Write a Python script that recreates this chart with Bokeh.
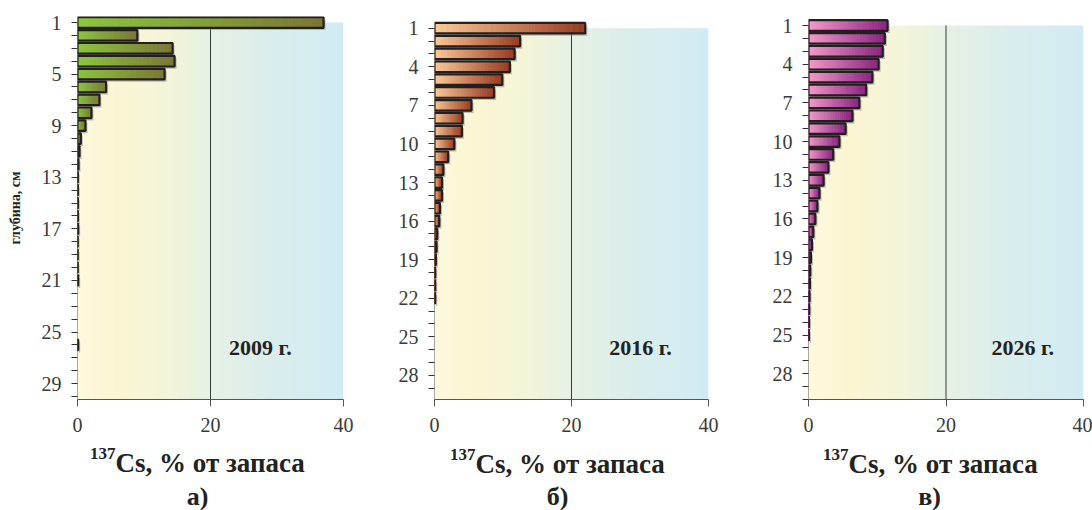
import numpy as np
from bokeh.plotting import figure
from bokeh.models import Range1d, FixedTicker, Label
from bokeh.layouts import row, column
from bokeh.core.properties import value
from bokeh.embed import file_html
from bokeh.resources import INLINE

# ---------------- data ----------------
depth = list(range(1, 31))
cs_2009 = [37.0, 9.0, 14.3, 14.6, 13.1, 4.3, 3.3, 2.1, 1.2, 0.5,
           0.3, 0.15, 0.05, 0.05, 0.05, 0.05, 0.1, 0.02, 0.02, 0.02,
           0.1, 0.0, 0.0, 0.0, 0.0, 0.1, 0.0, 0.0, 0.0, 0.0]
cs_2016 = [22.0, 12.5, 11.7, 11.0, 9.9, 8.7, 5.4, 4.1, 4.0, 2.9,
           2.0, 1.3, 1.1, 1.1, 0.8, 0.7, 0.4, 0.3, 0.2, 0.1,
           0.1, 0.1, 0.0, 0.0, 0.0, 0.0, 0.0, 0.0, 0.0, 0.0]
cs_2026 = [11.5, 11.1, 10.8, 10.2, 9.3, 8.4, 7.4, 6.4, 5.4, 4.5,
           3.6, 2.9, 2.2, 1.6, 1.3, 1.0, 0.7, 0.5, 0.35, 0.25,
           0.2, 0.15, 0.1, 0.07, 0.05, 0.0, 0.0, 0.0, 0.0, 0.0]
x_ticks = [0, 20, 40]
years = ["2009 г.", "2016 г.", "2026 г."]
panel_letters = ["а)", "б)", "в)"]
x_title = "Cs, % от запаса"
x_title_sup = "137"
y_title = "глубина, см"

FONT = "Liberation Serif"


def hex2rgb(h):
    h = h.lstrip("#")
    return tuple(int(h[i:i + 2], 16) for i in (0, 2, 4))


def mix(c0, c1, t):
    a, b = hex2rgb(c0), hex2rgb(c1)
    return "#%02x%02x%02x" % tuple(int(round(a[k] + (b[k] - a[k]) * t)) for k in range(3))


def background_image(W=240):
    stops = [(0.0, "#fdf9de"), (0.12, "#fbf6d3"), (0.35, "#f3f4d9"),
             (0.5, "#e6f1e5"), (0.75, "#d9edec"), (1.0, "#d2ebf3")]
    img = np.empty((1, W), dtype=np.uint32)
    view = img.view(dtype=np.uint8).reshape((1, W, 4))
    for i in range(W):
        t = i / (W - 1)
        for k in range(len(stops) - 1):
            if stops[k][0] <= t <= stops[k + 1][0]:
                tt = (t - stops[k][0]) / (stops[k + 1][0] - stops[k][0])
                r, g, b = hex2rgb(mix(stops[k][1], stops[k + 1][1], tt))
                break
        view[0, i] = (r, g, b, 255)
    return img


# common frame (row layout aligns frames): top at 16 px, bottom at 399 px
FRAME_TOP = 16
FRAME_BOT = 399
H_MAIN = 441


def y_limits(y1_px, y30_px):
    s = (y30_px - y1_px) / 29.0
    return 1 - (y1_px - FRAME_TOP) / s, 30 + (FRAME_BOT - y30_px) / s


def make_panel(values, c0, c1, label_every, year, width, bl, br, tick_px, ypos, show_ylabel):
    top, bot = y_limits(*tick_px)
    p = figure(width=width, height=H_MAIN, output_backend="svg",
               toolbar_location=None, x_range=Range1d(0, 40),
               y_range=Range1d(bot, top),
               min_border_left=bl, min_border_right=br,
               min_border_top=FRAME_TOP, min_border_bottom=H_MAIN - FRAME_BOT)
    p.outline_line_color = None
    p.xgrid.grid_line_color = None
    p.ygrid.grid_line_color = None
    p.background_fill_color = "white"
    p.border_fill_color = "white"

    # plot-area gradient background
    p.image_rgba(image=[background_image()], x=0, y=1, dw=40, dh=max(bot, 30) - 1)
    p.segment(x0=[20], y0=[1], x1=[20], y1=[max(bot, 30)], line_color="#3a3a3a", line_width=1)
    p.segment(x0=[0], y0=[1], x1=[0], y1=[max(bot, 30)], line_color="#555555", line_width=1)

    h = 0.82
    N = 24
    sy = [d for d, v in zip(depth, values) if v > 0]
    sv = [v for v in values if v > 0]
    # shadows
    p.quad(left=[0.2] * len(sv), right=[v + 0.3 for v in sv],
           top=[d - h / 2 + 0.18 for d in sy], bottom=[d + h / 2 + 0.18 for d in sy],
           fill_color="#8c8c8c", fill_alpha=0.55, line_color=None)
    # gradient bars
    L, R, T, B, C = [], [], [], [], []
    for d, v in zip(sy, sv):
        for i in range(N):
            L.append(v * i / N)
            R.append(v * (i + 1) / N)
            T.append(d - h / 2)
            B.append(d + h / 2)
            C.append(mix(c0, c1, (i + 0.5) / N))
    p.quad(left=L, right=R, top=T, bottom=B, fill_color=C, line_color=C, line_width=0.6)
    # outlines
    p.quad(left=[0] * len(sv), right=sv,
           top=[d - h / 2 for d in sy], bottom=[d + h / 2 for d in sy],
           fill_color=None, line_color="#231f20", line_width=2.2)

    # axes
    xa = p.xaxis[0]
    xa.ticker = FixedTicker(ticks=x_ticks)
    xa.minor_tick_line_color = None
    xa.major_tick_in = 0
    xa.major_tick_out = 7
    xa.axis_line_color = "#555555"
    xa.major_tick_line_color = "#555555"
    xa.major_label_text_font = FONT
    xa.major_label_text_font_size = "20px"
    xa.major_label_text_color = "#3a3a3a"
    xa.major_label_standoff = 11

    ya = p.yaxis[0]
    ya.ticker = FixedTicker(ticks=depth)
    ya.major_label_overrides = {d: ("" if (d - 1) % label_every else str(d)) for d in depth}
    ya.minor_tick_line_color = None
    ya.major_tick_in = 0
    ya.major_tick_out = 6
    ya.axis_line_color = None
    ya.major_tick_line_color = "#333333"
    ya.major_label_text_font = FONT
    ya.major_label_text_font_size = "20px"
    ya.major_label_text_color = "#3a3a3a"
    ya.major_label_standoff = 10
    if show_ylabel:
        ya.axis_label = y_title
        ya.axis_label_text_font = FONT
        ya.axis_label_text_font_size = "14px"
        ya.axis_label_text_font_style = "bold"
        ya.axis_label_text_color = "#222222"
        ya.axis_label_standoff = 16

    yx, yy = ypos
    p.add_layout(Label(x=yx, y=yy, text=year, text_font=FONT, text_font_size="22px",
                       text_font_style="bold", text_color="#222222",
                       text_baseline="middle", text_align="left"))
    return p


pa = make_panel(cs_2009, "#8dc63f", "#7a7734", 4, years[0],
                363, 77, 20, (22.0, 396.0), (22.8, 26.2), True)
pb = make_panel(cs_2016, "#fdca98", "#983a1f", 3, years[1],
                365, 71, 20, (27.7, 400.6), (25.5, 25.8), False)
pc = make_panel(cs_2026, "#f59bc9", "#8a2281", 3, years[2],
                364, 80, 9, (25.0, 399.0), (26.6, 26.0), False)

# caption strip under the three panels (coordinates = page pixels)
cap = figure(width=1092, height=510 - H_MAIN, output_backend="svg", toolbar_location=None,
             x_range=Range1d(0, 1092), y_range=Range1d(510, H_MAIN),
             min_border=0, x_axis_type=None, y_axis_type=None)
cap.outline_line_color = None
cap.xgrid.grid_line_color = None
cap.ygrid.grid_line_color = None
cap.background_fill_color = "white"
cap.border_fill_color = "white"

title_x = [115, 475, 848]
title_y = [462, 463, 463]
letter_x = [197, 557, 929]
cap.text(x=title_x, y=title_y, text=[x_title] * 3, text_font=value(FONT),
         text_font_size="27px", text_font_style="bold", text_color="#222222",
         text_align="left", text_baseline="middle")
cap.text(x=title_x, y=[t - 9 for t in title_y], text=[x_title_sup] * 3,
         text_font=value(FONT), text_font_size="17px", text_font_style="bold",
         text_color="#222222", text_align="right", text_baseline="middle")
cap.text(x=letter_x, y=[496] * 3, text=panel_letters, text_font=value(FONT),
         text_font_size="26px", text_font_style="bold", text_color="#222222",
         text_align="center", text_baseline="middle")

layout = column(row(pa, pb, pc, spacing=0), cap, spacing=0)
open("out.html", "w").write(file_html(layout, INLINE))
